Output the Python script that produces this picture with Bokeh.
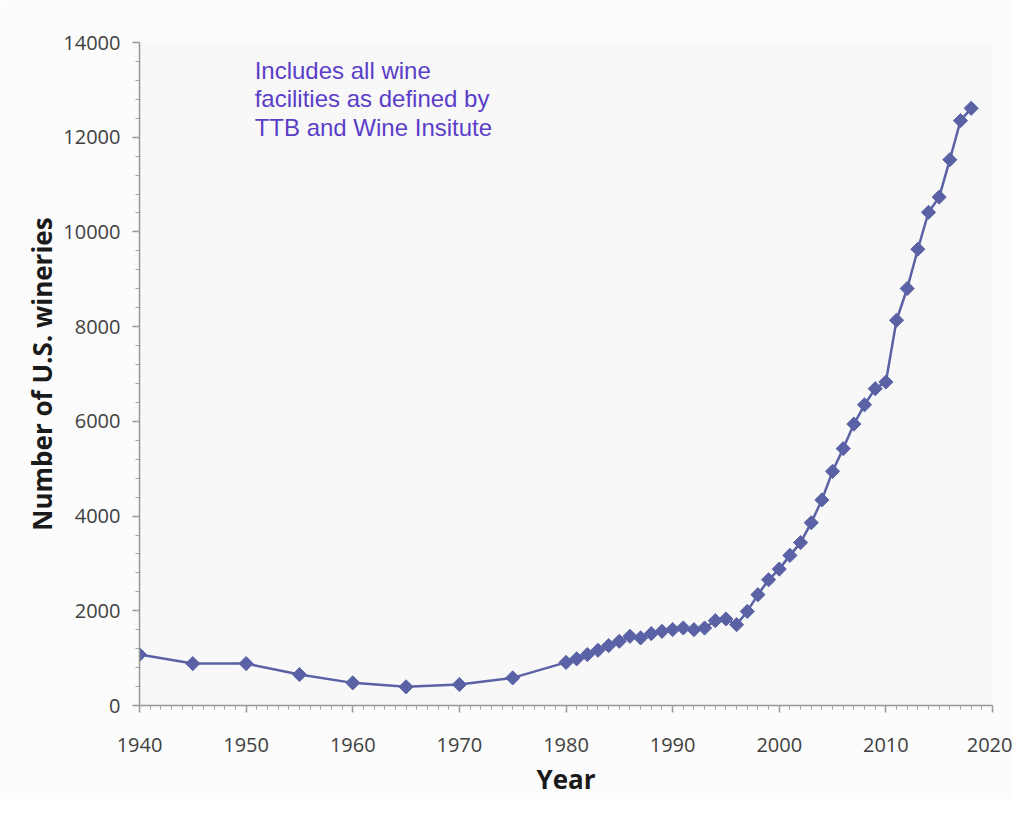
import math
from bokeh.plotting import figure
from bokeh.models import Range1d, SingleIntervalTicker, Label
from bokeh.embed import file_html
from bokeh.resources import INLINE

years = [1940, 1945, 1950, 1955, 1960, 1965, 1970, 1975,
         1980, 1981, 1982, 1983, 1984, 1985, 1986, 1987, 1988, 1989,
         1990, 1991, 1992, 1993, 1994, 1995, 1996, 1997, 1998, 1999,
         2000, 2001, 2002, 2003, 2004, 2005, 2006, 2007, 2008, 2009,
         2010, 2011, 2012, 2013, 2014, 2015, 2016, 2017, 2018]
wineries = [1075, 885, 885, 653, 478, 394, 443, 583,
            910, 985, 1075, 1166, 1265, 1356, 1461, 1427, 1518, 1566,
            1602, 1637, 1602, 1637, 1792, 1827, 1707, 1987, 2340, 2655,
            2880, 3170, 3440, 3860, 4341, 4945, 5425, 5943, 6350, 6690,
            6830, 8135, 8805, 9635, 10415, 10735, 11525, 12350, 12610]
note_lines = ["Includes all wine", "facilities as defined by", "TTB and Wine Insitute"]
x_title = "Year"
y_title = "Number of U.S. wineries"

p = figure(width=1012, height=799, output_backend="svg", toolbar_location=None,
           x_range=Range1d(1940, 2020), y_range=Range1d(0, 14000),
           min_border_left=139, min_border_right=20, min_border_top=42, min_border_bottom=93)

p.background_fill_color = "#f8f8f8"
p.border_fill_color = "#fcfcfc"
p.outline_line_color = None
p.grid.grid_line_color = None

color = "#5a62a5"
p.line(years, wineries, line_color=color, line_width=2.5)
p.scatter(years, wineries, marker="square", size=10, angle=math.pi / 4,
          fill_color=color, line_color=color)

p.xaxis.ticker = SingleIntervalTicker(interval=10, num_minor_ticks=10)
p.yaxis.ticker = SingleIntervalTicker(interval=2000, num_minor_ticks=5)

for ax in (p.xaxis[0], p.yaxis[0]):
    ax.axis_line_color = "#959595"
    ax.axis_line_width = 1.5
    ax.major_tick_line_color = "#959595"
    ax.major_tick_line_width = 1.5
    ax.minor_tick_line_color = "#a0a0a0"
    ax.major_tick_in = 0
    ax.major_tick_out = 7
    ax.minor_tick_in = 0
    ax.minor_tick_out = 4
    ax.major_label_text_font = "Open Sans"
    ax.major_label_text_font_size = "20px"
    ax.major_label_text_color = "#404040"
    ax.axis_label_text_font = "Open Sans"
    ax.axis_label_text_font_style = "bold"
    ax.axis_label_text_font_size = "26px"
    ax.axis_label_text_color = "#1a1a1a"

p.xaxis.axis_label = x_title
p.yaxis.axis_label = y_title
p.xaxis.major_label_standoff = 25
p.xaxis.axis_label_standoff = 6
p.yaxis.major_label_standoff = 12
p.yaxis.axis_label_standoff = 0

ys = [13700, 13100, 12500]
for txt, yy in zip(note_lines, ys):
    p.add_layout(Label(x=1950.8, y=yy, text=txt, text_baseline="top",
                       text_font="Liberation Sans", text_font_size="24px",
                       text_color="#5b3ec8"))

open("out.html", "w").write(file_html(p, INLINE))
